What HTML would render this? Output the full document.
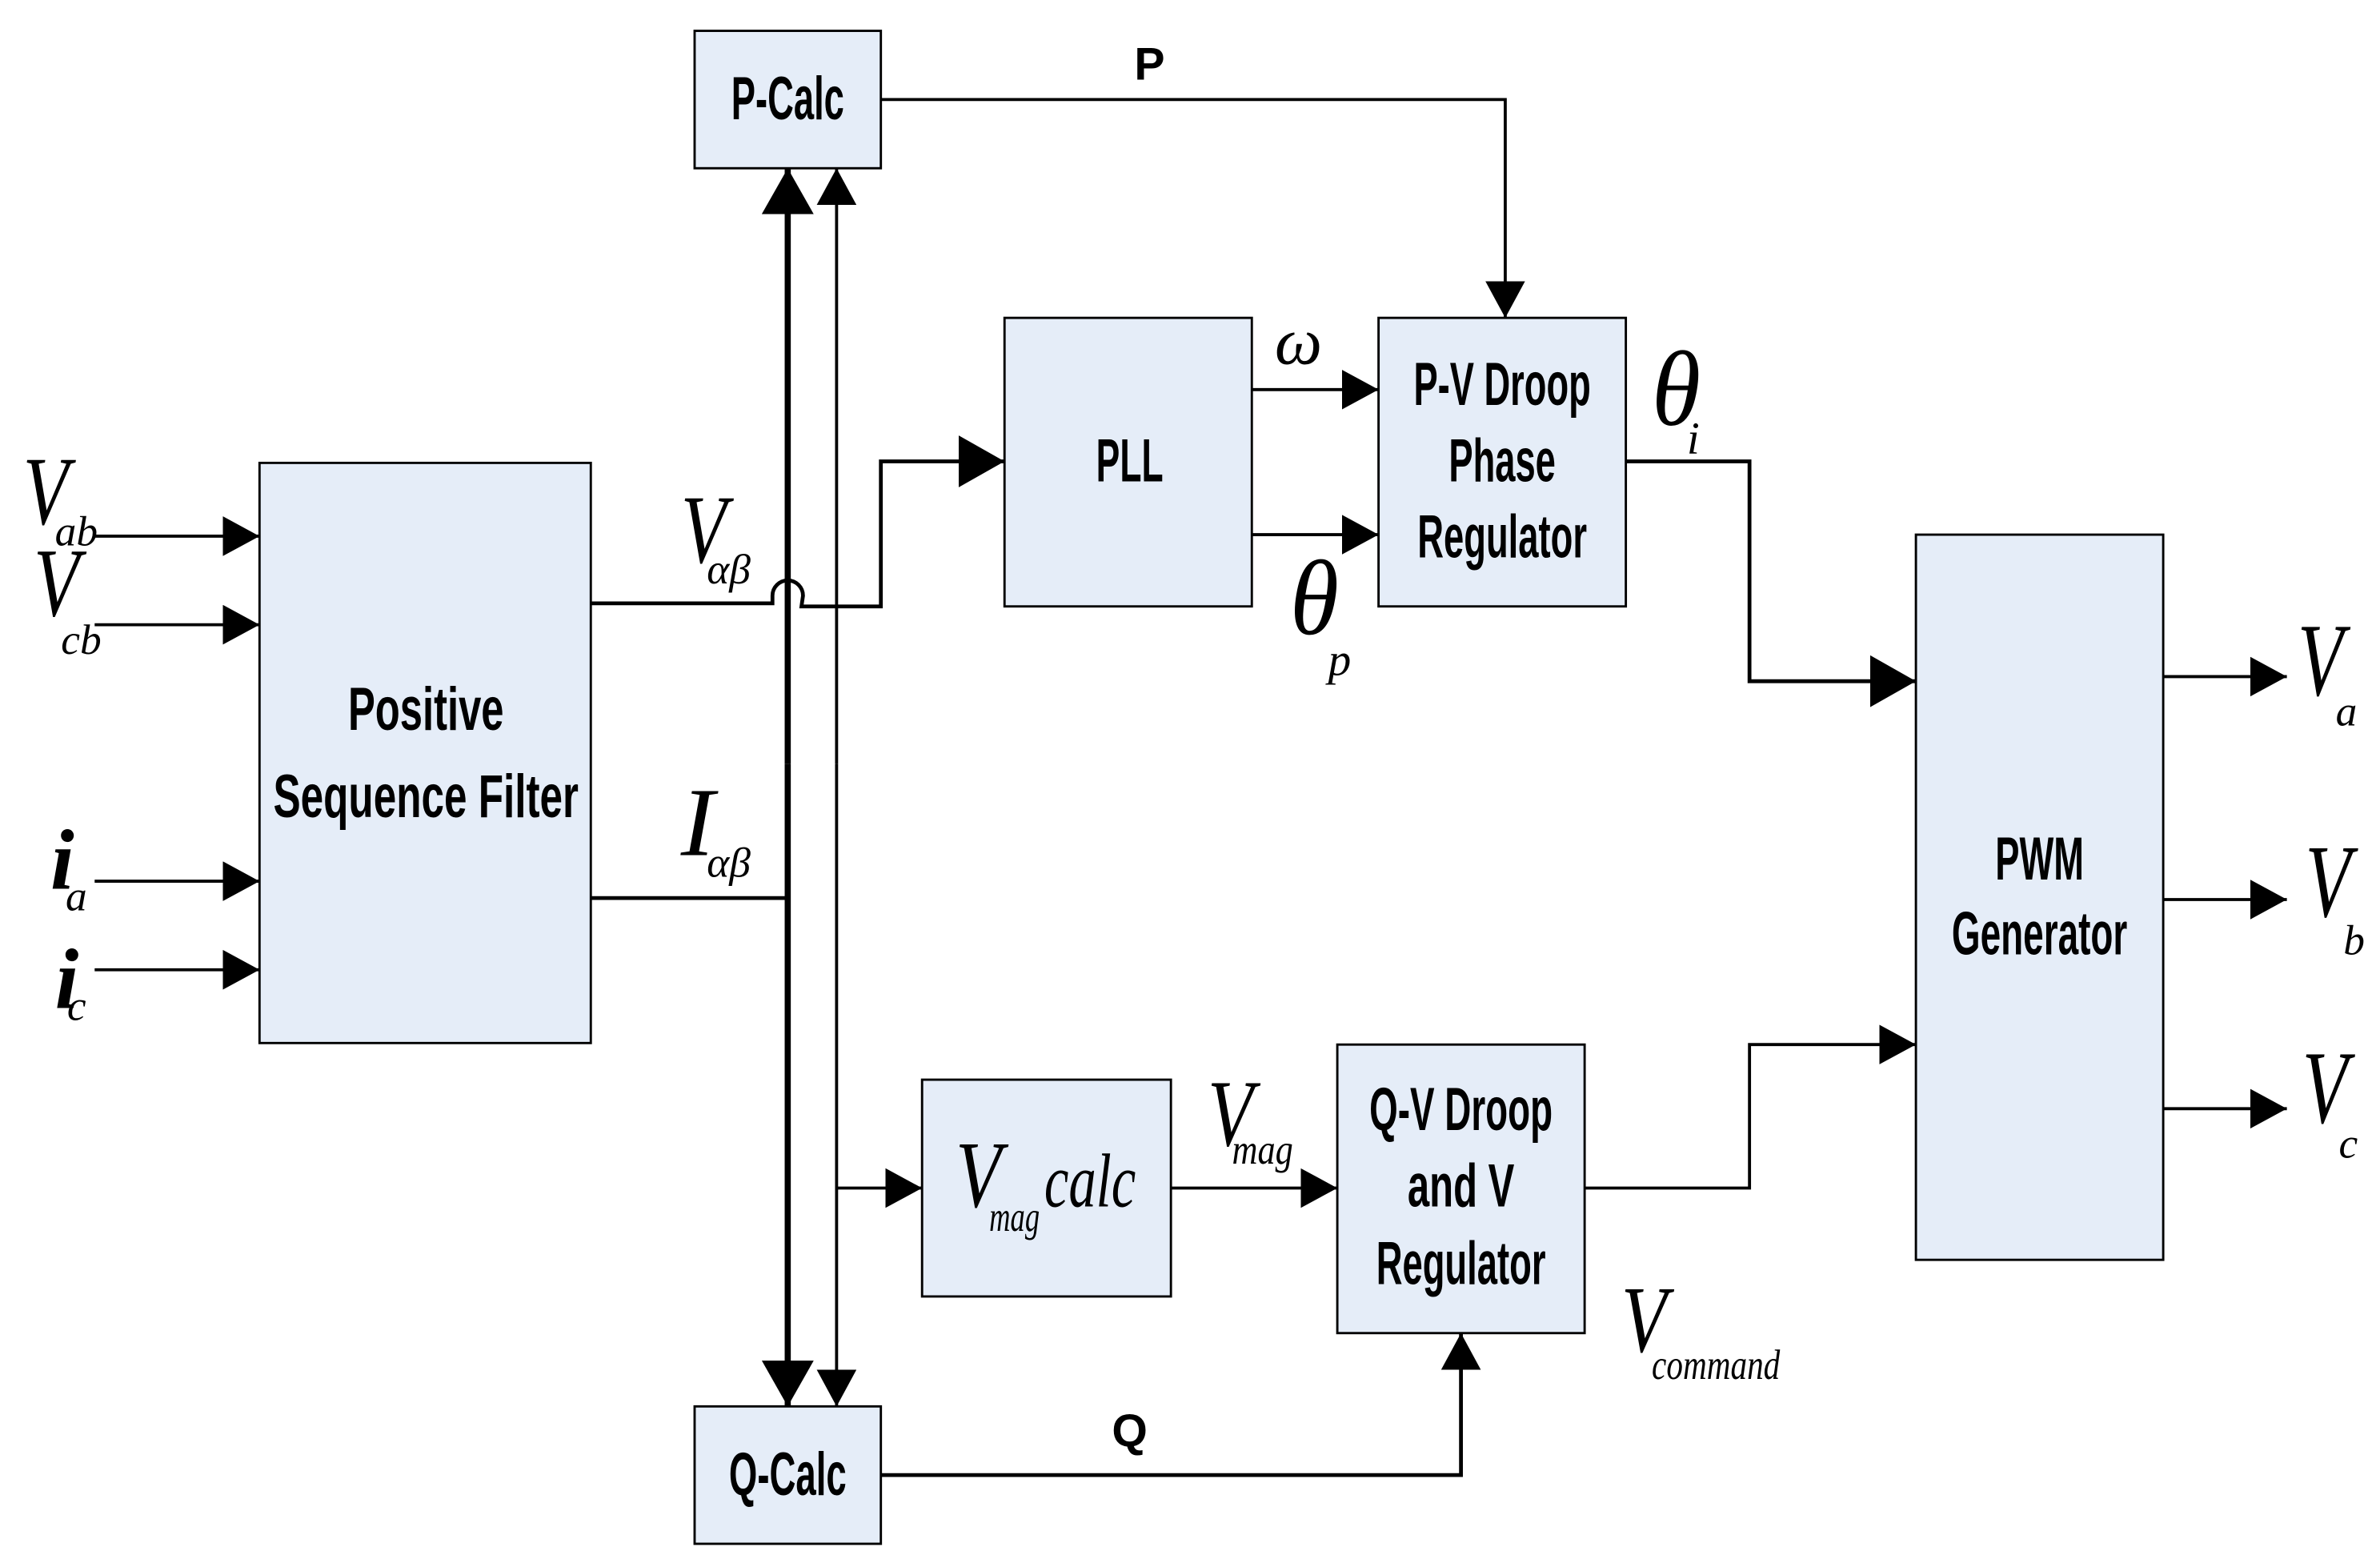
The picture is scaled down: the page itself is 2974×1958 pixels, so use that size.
<!DOCTYPE html>
<html><head><meta charset="utf-8"><style>
html,body{margin:0;padding:0;background:#fff}
svg{display:block}
.b{font-family:"Liberation Sans",sans-serif;font-weight:bold;font-size:40px;text-anchor:middle}
.i{font-family:"Liberation Serif",serif;font-style:italic}
</style></head><body>
<svg width="2974" height="1958" viewBox="0 0 1559 1026" xmlns="http://www.w3.org/2000/svg">
<defs>
<marker id="a" markerWidth="24" markerHeight="26" refX="24" refY="13" orient="auto" markerUnits="userSpaceOnUse"><path d="M0,0 L24,13 L0,26 Z" fill="#000"/></marker>
<marker id="A" markerWidth="30" markerHeight="34" refX="30" refY="17" orient="auto" markerUnits="userSpaceOnUse"><path d="M0,0 L30,17 L0,34 Z" fill="#000"/></marker>
</defs>
<g fill="#e5edf8" stroke="#000" stroke-width="1.5">
<rect x="170" y="303" width="217" height="380"/>
<rect x="455" y="20" width="122" height="90"/>
<rect x="455" y="921" width="122" height="90"/>
<rect x="658" y="208" width="162" height="189"/>
<rect x="903" y="208" width="162" height="189"/>
<rect x="604" y="707" width="163" height="142"/>
<rect x="876" y="684" width="162" height="189"/>
<rect x="1255" y="350" width="162" height="475"/>
</g>
<g stroke="#000" fill="none" stroke-width="2">
<line x1="62" y1="351" x2="170" y2="351" marker-end="url(#a)"/>
<line x1="62" y1="409" x2="170" y2="409" marker-end="url(#a)"/>
<line x1="62" y1="577" x2="170" y2="577" marker-end="url(#a)"/>
<line x1="62" y1="635" x2="170" y2="635" marker-end="url(#a)"/>
<path d="M387,395 H506 V390 A10,10 0 0 1 526,390 L525,397 H577 V302 H658" stroke-width="2.5" marker-end="url(#A)"/>
<line x1="387" y1="588" x2="516" y2="588" stroke-width="2.5"/>
<line x1="516" y1="500" x2="516" y2="110" stroke-width="4" marker-end="url(#A)"/>
<line x1="516" y1="500" x2="516" y2="921" stroke-width="4" marker-end="url(#A)"/>
<line x1="548" y1="500" x2="548" y2="110" marker-end="url(#a)"/>
<line x1="548" y1="500" x2="548" y2="921" marker-end="url(#a)"/>
<line x1="548" y1="778" x2="604" y2="778" marker-end="url(#a)"/>
<path d="M577,65 H986 V208" marker-end="url(#a)"/>
<line x1="820" y1="255" x2="903" y2="255" marker-end="url(#a)"/>
<line x1="820" y1="350" x2="903" y2="350" marker-end="url(#a)"/>
<path d="M1065,302 H1146 V446 H1255" stroke-width="2.5" marker-end="url(#A)"/>
<line x1="767" y1="778" x2="876" y2="778" marker-end="url(#a)"/>
<path d="M1038,778 H1146 V684 H1255" marker-end="url(#a)"/>
<path d="M577,966 H957 V873" stroke-width="2.5" marker-end="url(#a)"/>
<line x1="1417" y1="443" x2="1498" y2="443" marker-end="url(#a)"/>
<line x1="1417" y1="589" x2="1498" y2="589" marker-end="url(#a)"/>
<line x1="1417" y1="726" x2="1498" y2="726" marker-end="url(#a)"/>
</g>
<g class="b">
<text x="279" y="478" textLength="102" lengthAdjust="spacingAndGlyphs">Positive</text>
<text x="279" y="535" textLength="200" lengthAdjust="spacingAndGlyphs">Sequence Filter</text>
<text x="516" y="78" textLength="74" lengthAdjust="spacingAndGlyphs">P-Calc</text>
<text x="516" y="979" textLength="77" lengthAdjust="spacingAndGlyphs">Q-Calc</text>
<text x="740" y="315" textLength="44" lengthAdjust="spacingAndGlyphs">PLL</text>
<text x="984" y="265" textLength="116" lengthAdjust="spacingAndGlyphs">P-V Droop</text>
<text x="984" y="315" textLength="70" lengthAdjust="spacingAndGlyphs">Phase</text>
<text x="984" y="365" textLength="111" lengthAdjust="spacingAndGlyphs">Regulator</text>
<text x="957" y="740" textLength="120" lengthAdjust="spacingAndGlyphs">Q-V Droop</text>
<text x="957" y="790" textLength="70" lengthAdjust="spacingAndGlyphs">and V</text>
<text x="957" y="841" textLength="111" lengthAdjust="spacingAndGlyphs">Regulator</text>
<text x="1336" y="576" textLength="58" lengthAdjust="spacingAndGlyphs">PWM</text>
<text x="1336" y="625" textLength="115" lengthAdjust="spacingAndGlyphs">Generator</text>
<text x="753" y="52" style="font-size:30px">P</text>
<text x="740" y="947" style="font-size:30px">Q</text>
</g>
<g class="i">
<text x="15" y="343" font-size="64" textLength="30" lengthAdjust="spacingAndGlyphs">V</text>
<text x="36" y="357" font-size="28">ab</text>
<text x="22" y="403" font-size="64" textLength="30" lengthAdjust="spacingAndGlyphs">V</text>
<text x="40" y="428" font-size="28">cb</text>
<text x="33" y="582" font-size="56" font-weight="bold">i</text>
<text x="43" y="596" font-size="28">a</text>
<text x="36" y="660" font-size="56" font-weight="bold">i</text>
<text x="44" y="668" font-size="28">c</text>
<text x="446" y="368" font-size="64" textLength="30" lengthAdjust="spacingAndGlyphs">V</text>
<text x="463" y="382" font-size="28">αβ</text>
<text x="446" y="560" font-size="64" textLength="22" lengthAdjust="spacingAndGlyphs">I</text>
<text x="463" y="574" font-size="28">αβ</text>
<text x="835" y="238" font-size="44">ω</text>
<text x="845" y="415" font-size="70" textLength="32" lengthAdjust="spacingAndGlyphs">θ</text>
<text x="870" y="442" font-size="30">p</text>
<text x="1082" y="278" font-size="70" textLength="32" lengthAdjust="spacingAndGlyphs">θ</text>
<text x="1105" y="297" font-size="30">i</text>
<text x="626" y="790" font-size="62" textLength="30" lengthAdjust="spacingAndGlyphs">V</text>
<text x="648" y="806" font-size="28" textLength="33" lengthAdjust="spacingAndGlyphs">mag</text>
<text x="684" y="790" font-size="50" textLength="60" lengthAdjust="spacingAndGlyphs">calc</text>
<text x="791" y="750" font-size="62" textLength="30" lengthAdjust="spacingAndGlyphs">V</text>
<text x="807" y="762" font-size="28" textLength="40" lengthAdjust="spacingAndGlyphs">mag</text>
<text x="1062" y="885" font-size="62" textLength="30" lengthAdjust="spacingAndGlyphs">V</text>
<text x="1082" y="903" font-size="28" textLength="84" lengthAdjust="spacingAndGlyphs">command</text>
<text x="1505" y="455" font-size="68" textLength="30" lengthAdjust="spacingAndGlyphs">V</text>
<text x="1530" y="475" font-size="28">a</text>
<text x="1510" y="600" font-size="68" textLength="30" lengthAdjust="spacingAndGlyphs">V</text>
<text x="1535" y="625" font-size="28">b</text>
<text x="1508" y="735" font-size="68" textLength="30" lengthAdjust="spacingAndGlyphs">V</text>
<text x="1532" y="758" font-size="28">c</text>
</g>
</svg>
</body></html>
